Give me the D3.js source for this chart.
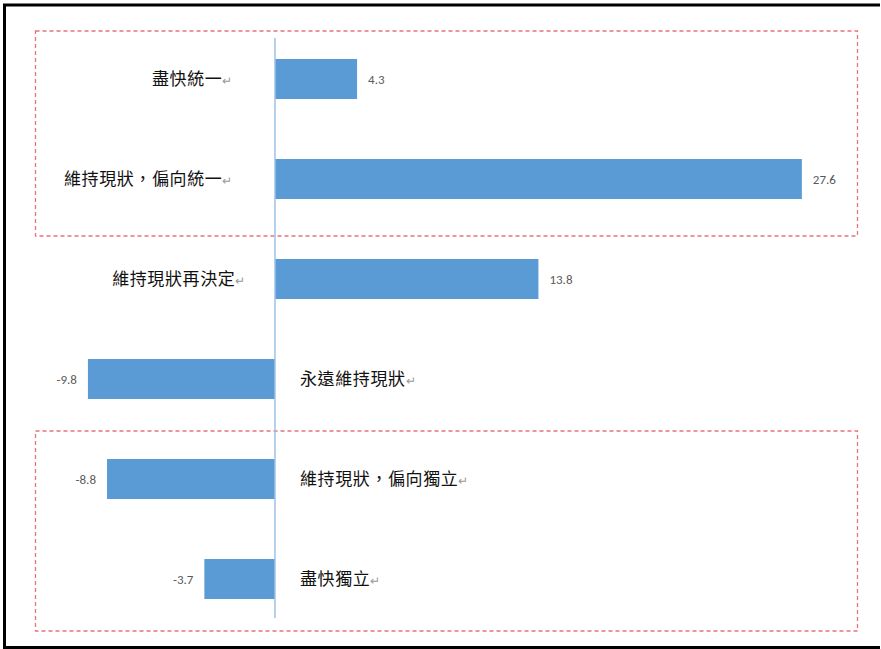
<!DOCTYPE html>
<html>
<head>
<meta charset="utf-8">
<script src="https://cdn.jsdelivr.net/npm/d3@7"></script>
<style>
  body { margin: 0; background: #fff; }
  svg { display: block; }
</style>
</head>
<body>
<div class="graph"></div>
<script>
// survey categories, top to bottom
var categories = ['盡快統一', '維持現狀，偏向統一', '維持現狀再決定', '永遠維持現狀', '維持現狀，偏向獨立', '盡快獨立'];
var values = [4.3, 27.6, 13.8, -9.8, -8.8, -3.7];
// groups framed by red dashed boxes (index ranges)
var groups = [[0, 1], [4, 5]];

var W = 881, H = 649;
var svg = d3.select('.graph').append('svg')
  .attr('width', W).attr('height', H);

// outer black frame (top, left, bottom)
svg.append('path')
  .attr('d', 'M880,5 H4.5 V647.5 H880')
  .attr('fill', 'none').attr('stroke', '#000').attr('stroke-width', 3);

var x = d3.scaleLinear().domain([-10, 28]).range([275 - 190.9, 275 + 534.5]);
var y = d3.scaleBand().domain(categories).range([29, 629])
  .paddingInner(0.6).paddingOuter(0.3);

// dashed boxes
groups.forEach(function(g) {
  var y0 = y(categories[g[0]]) - 28;
  var y1 = y(categories[g[1]]) + y.bandwidth() + (g[0] === 0 ? 37 : 32);
  svg.append('rect')
    .attr('x', 35.5).attr('y', y0)
    .attr('width', 822).attr('height', y1 - y0)
    .attr('fill', 'none')
    .attr('stroke', '#e8737f')
    .attr('stroke-width', 1.3)
    .attr('stroke-dasharray', '4,3');
});

var data = categories.map(function(c, i) { return { name: c, value: values[i], i: i }; });

svg.selectAll('rect.bar').data(data).enter().append('rect')
  .attr('class', 'bar')
  .attr('x', function(d) { return Math.min(x(0), x(d.value)); })
  .attr('y', function(d) { return y(d.name); })
  .attr('width', function(d) { return Math.abs(x(d.value) - x(0)); })
  .attr('height', y.bandwidth())
  .attr('fill', '#5b9bd5');

// axis line
svg.append('line')
  .attr('x1', x(0)).attr('x2', x(0))
  .attr('y1', 38).attr('y2', 618)
  .attr('stroke', '#9dc3e6').attr('stroke-width', 1.5);

// value labels
svg.selectAll('text.val').data(data).enter().append('text')
  .attr('class', 'val')
  .attr('x', function(d) { return d.value >= 0 ? x(d.value) + 11 : x(d.value) - 11; })
  .attr('y', function(d) { return y(d.name) + y.bandwidth() / 2; })
  .attr('dy', '0.35em')
  .attr('text-anchor', function(d) { return d.value >= 0 ? 'start' : 'end'; })
  .attr('font-family', 'Carlito, Calibri, "Liberation Sans", sans-serif')
  .attr('font-size', '13px')
  .attr('fill', '#595959')
  .text(function(d) { return d.value; });

// category labels, on the opposite side of the bar
var cat = svg.selectAll('text.cat').data(data).enter().append('text')
  .attr('class', 'cat')
  .attr('x', function(d) {
    if (d.value < 0) return x(0) + 25;
    return d.i < 2 ? x(0) - 42 : x(0) - 29;
  })
  .attr('y', function(d) { return y(d.name) + y.bandwidth() / 2; })
  .attr('dy', '0.36em')
  .attr('text-anchor', function(d) { return d.value >= 0 ? 'end' : 'start'; })
  .attr('font-family', '"Noto Sans CJK TC", "Noto Sans CJK SC", sans-serif')
  .attr('font-size', '17px')
  .attr('letter-spacing', '0.6px')
  .attr('fill', '#111');
cat.append('tspan').text(function(d) { return d.name; });
cat.append('tspan').attr('fill', '#999').attr('font-size', '12px').text('↵');
</script>
</body>
</html>
